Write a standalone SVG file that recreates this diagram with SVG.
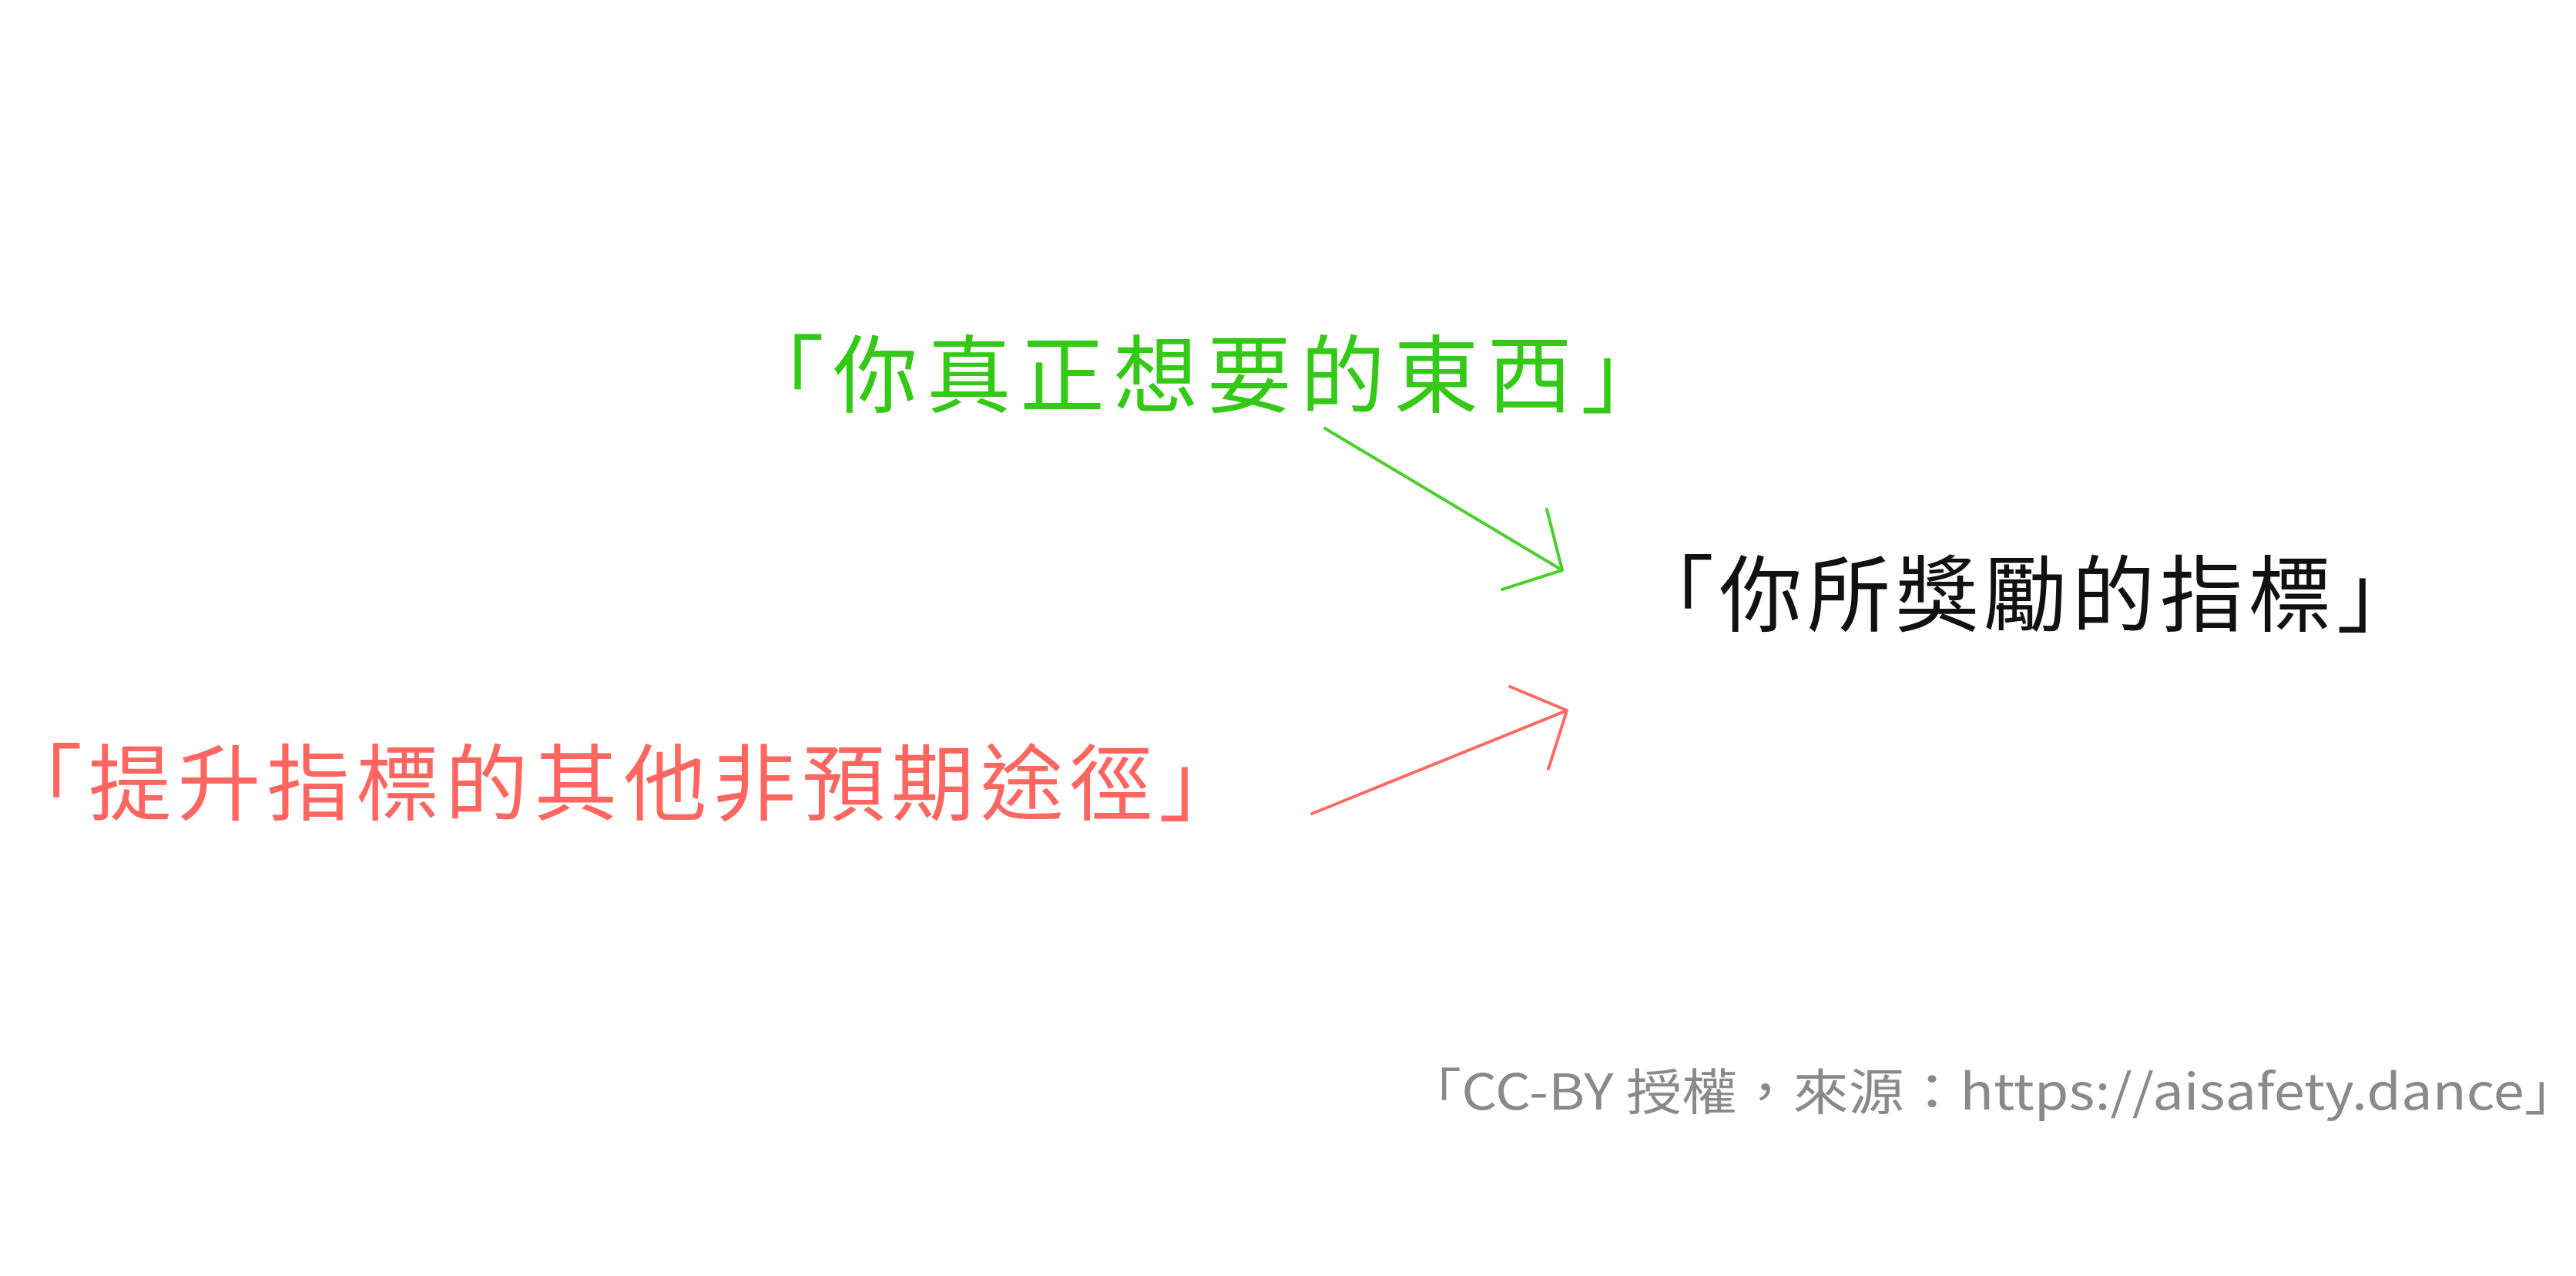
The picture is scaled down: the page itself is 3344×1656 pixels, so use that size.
<svg xmlns="http://www.w3.org/2000/svg" width="3344" height="1656" viewBox="0 0 3344 1656">
<style>
  text { font-family: "Noto Sans CJK TC", "Noto Sans CJK SC", sans-serif; }
  .green { fill: #33c916; }
  .red { fill: #ff6660; }
  .black { fill: #111111; }
  .gray { fill: #8a8a8a; }
  .arrow { fill: none; stroke-width: 4; stroke-linecap: round; stroke-linejoin: round; }
</style>
<rect width="3344" height="1656" fill="#ffffff"/>
<g id="node-want">
  <text class="green" x="960" y="527" font-size="110" textLength="1202" lengthAdjust="spacing">「你真正想要的東西」</text>
</g>
<g id="node-metric">
  <text class="black" x="2117" y="811" font-size="108" textLength="1024" lengthAdjust="spacing">「你所獎勵的指標」</text>
</g>
<g id="node-other">
  <text class="red" x="-1" y="1056" font-size="108" textLength="1613" lengthAdjust="spacing">「提升指標的其他非預期途徑」</text>
</g>
<g id="footer">
  <text class="gray" x="1825" y="1440" font-size="64" textLength="1524" lengthAdjust="spacingAndGlyphs">「CC-BY 授權，來源：https://aisafety.dance」</text>
</g>
<g id="connectors">
  <path class="arrow" stroke="#4ccf2c" d="M1720,556 L2028,740 M2008,661 L2028,740 L1950,765"/>
  <path class="arrow" stroke="#ff6a64" d="M1703,1056 L2034,922 M1960,891 L2034,922 L2010,998"/>
</g>
</svg>
